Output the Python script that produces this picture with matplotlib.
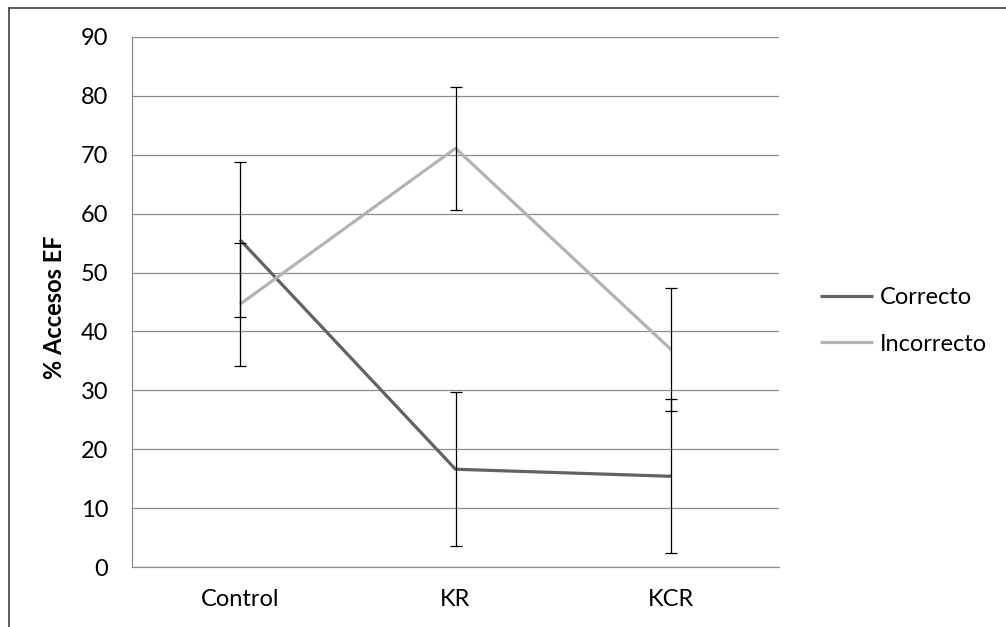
import matplotlib.pyplot as plt
from matplotlib.lines import Line2D
import numpy as np

# data
categories = ['Control', 'KR', 'KCR']
correcto = [55.6, 16.6, 15.4]
correcto_err = [13.1, 13.1, 13.1]
incorrecto = [44.6, 71.1, 36.9]
incorrecto_err = [10.4, 10.4, 10.4]

plt.rcParams['font.family'] = ['Lato', 'DejaVu Sans']
FS = 17

fig = plt.figure(figsize=(10.06, 6.27), dpi=100)
ax = fig.add_axes([132 / 1006, 60 / 627, 647 / 1006, 530 / 627])

x = np.arange(len(categories))
ax.plot(x, correcto, color='#626262', lw=2.3, label='Correcto', zorder=3,
        solid_capstyle='butt')
ax.plot(x, incorrecto, color='#b3b3b3', lw=2.3, label='Incorrecto', zorder=3,
        solid_capstyle='butt')
ax.errorbar(x, correcto, yerr=correcto_err, fmt='none', ecolor='black',
            elinewidth=0.9, capsize=4.3, capthick=0.9, zorder=4)
ax.errorbar(x, incorrecto, yerr=incorrecto_err, fmt='none', ecolor='black',
            elinewidth=0.9, capsize=4.3, capthick=0.9, zorder=4)

ax.set_xlim(-0.5, 2.5)
ax.set_ylim(0, 90)
ax.set_yticks(range(0, 91, 10))
ax.set_xticks(x)
ax.set_xticklabels(categories)
ax.tick_params(axis='both', length=0, labelsize=FS)
ax.tick_params(axis='y', pad=17)
ax.tick_params(axis='x', pad=16)
ax.grid(axis='y', color='#8c8c8c', lw=0.9)
ax.set_axisbelow(True)
for s in ['top', 'right']:
    ax.spines[s].set_visible(False)
for s in ['left', 'bottom']:
    ax.spines[s].set_color('#8c8c8c')
    ax.spines[s].set_linewidth(0.9)

ax.set_ylabel('% Accesos EF', fontsize=FS, fontweight='bold')
ax.yaxis.set_label_coords(-0.102, 0.49)

ax.legend(loc='center left', bbox_to_anchor=(820 / 1006, 1 - 321 / 627),
          bbox_transform=fig.transFigure, frameon=False, fontsize=FS,
          handlelength=2.25, handletextpad=0.3, labelspacing=1.06,
          borderpad=0, borderaxespad=0)

# outer chart frame (only top and left edges show in the crop)
fig.add_artist(Line2D([8.5 / 1006, 8.5 / 1006], [0, 1 - 7.5 / 627],
                      transform=fig.transFigure, color='#404040', lw=1.2))
fig.add_artist(Line2D([8.5 / 1006, 1], [1 - 7.5 / 627, 1 - 7.5 / 627],
                      transform=fig.transFigure, color='#404040', lw=1.2))

fig.savefig('out.png', dpi=100)
